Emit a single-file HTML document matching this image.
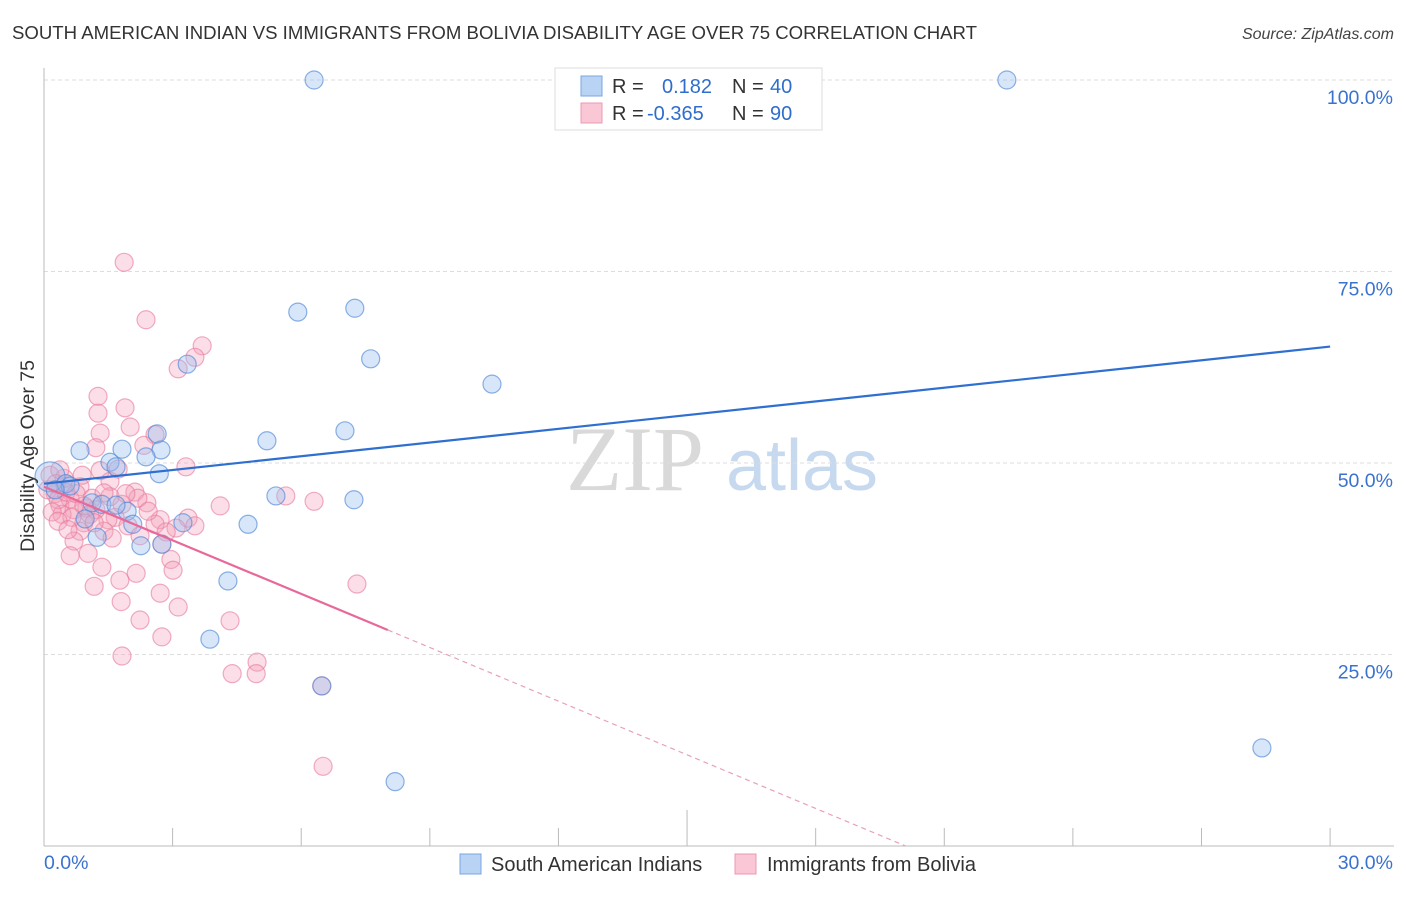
<!DOCTYPE html>
<html><head><meta charset="utf-8">
<style>
html,body{margin:0;padding:0;background:#fff;}
body{width:1406px;height:892px;overflow:hidden;font-family:"Liberation Sans",sans-serif;}
</style></head>
<body>
<svg id="chart" width="1406" height="892" xmlns="http://www.w3.org/2000/svg" font-family="Liberation Sans, sans-serif">
<text x="12" y="39" font-size="18.6" fill="#333">SOUTH AMERICAN INDIAN VS IMMIGRANTS FROM BOLIVIA DISABILITY AGE OVER 75 CORRELATION CHART</text>
<text x="1394" y="39" font-size="16" fill="#444" text-anchor="end" font-style="italic">Source: ZipAtlas.com</text>
<g>
<text x="635" y="490" font-size="92" fill="#d9d9d9" font-family="Liberation Serif, serif" text-anchor="middle">ZIP</text>
<text x="802" y="490" font-size="72" fill="#c6d9ef" text-anchor="middle">atlas</text>
</g>
<g id="grid"></g>
<g id="axes"></g>
<g id="pts"></g>
<g id="trend"></g>
<text transform="translate(34,456) rotate(-90)" font-size="19.5" fill="#333" text-anchor="middle">Disability Age Over 75</text>
<g>
<rect x="555" y="68" width="267" height="62" fill="#fff" stroke="#ddd"/>
<rect x="581" y="76" width="21" height="20" fill="#b8d3f3" stroke="#7aa6e0"/>
<rect x="581" y="103" width="21" height="20" fill="#f9c7d5" stroke="#ec9ab3"/>
<text x="612" y="93" font-size="20" fill="#333">R =</text>
<text x="662" y="93" font-size="20" fill="#2f6dcc">0.182</text>
<text x="732" y="93" font-size="20" fill="#333">N =</text>
<text x="770" y="93" font-size="20" fill="#2f6dcc">40</text>
<text x="612" y="120" font-size="20" fill="#333">R =</text>
<text x="647" y="120" font-size="20" fill="#2f6dcc">-0.365</text>
<text x="732" y="120" font-size="20" fill="#333">N =</text>
<text x="770" y="120" font-size="20" fill="#2f6dcc">90</text>
</g>
<g>
<rect x="460" y="854" width="21" height="20" fill="#b8d3f3" stroke="#7aa6e0"/>
<text x="491" y="871" font-size="20" fill="#333">South American Indians</text>
<rect x="735" y="854" width="21" height="20" fill="#f9c7d5" stroke="#ec9ab3"/>
<text x="767" y="871" font-size="20" fill="#333">Immigrants from Bolivia</text>
</g>
</svg>
<script>
const blueX=[6.30,13.76,22.46,5.92,7.25,7.62,3.34,10.45,7.02,5.20,2.64,1.82,2.73,0.84,2.38,1.54,1.68,2.69,0.14,0.51,5.41,7.23,1.12,1.35,1.94,0.96,2.07,3.24,4.76,1.24,2.26,2.75,4.29,3.87,6.48,8.19,28.41,0.61,0.26,1.68];
const blueY=[100,100,100,69.7,70.2,63.6,62.9,60.3,54.2,52.9,53.8,51.8,51.7,51.6,50.8,50.1,49.5,48.6,48.2,47.3,45.7,45.2,44.8,44.6,43.7,42.7,42.0,42.2,42.0,40.3,39.2,39.4,34.6,27.0,20.9,8.4,12.8,47.0,46.5,44.5];
const pinkX=[1.87,2.38,3.69,3.52,3.13,1.26,1.89,1.26,2.01,1.31,2.59,1.21,2.33,3.31,1.73,1.31,1.54,0.51,0.84,2.12,0.26,1.54,0.61,5.64,6.30,2.40,4.11,0.37,1.00,0.70,0.42,1.66,2.71,3.36,1.49,0.93,2.59,1.96,3.08,1.40,0.84,2.85,2.24,0.70,2.75,1.03,0.61,2.96,1.35,3.01,2.15,1.77,7.30,1.17,2.71,1.80,3.13,2.24,4.34,2.75,1.82,4.97,4.39,4.95,6.51,6.48,0.14,0.09,0.33,0.51,0.75,1.12,1.21,0.93,0.47,0.19,1.40,1.07,0.65,0.33,1.82,2.19,0.56,1.59,2.43,3.52,0.37,0.89,1.91,0.28,1.17];
const pinkY=[76.2,68.7,65.3,63.8,62.3,58.7,57.2,56.5,54.7,53.9,53.7,52.0,52.3,49.5,49.2,49.0,47.6,47.3,46.9,46.2,46.0,45.6,45.3,45.7,45.0,44.8,44.4,44.5,44.1,43.9,43.3,42.9,42.6,42.8,42.6,42.2,42.0,41.8,41.5,41.1,41.1,41.0,40.5,39.8,39.4,38.2,37.9,37.4,36.4,36.0,35.6,34.7,34.2,33.9,33.0,31.9,31.2,29.5,29.4,27.3,24.8,24.0,22.5,22.5,10.4,20.9,48.4,46.5,45.2,46.2,46.0,45.4,43.9,44.4,48.0,43.6,46.1,43.3,42.9,42.4,44.6,45.4,41.3,40.2,43.7,41.8,49.1,48.4,46.0,47.3,42.2];
const yTicks=[25,50,75,100];
const yTickLabels=["25.0%","50.0%","75.0%","100.0%"];
const xTicks=[0,3,6,9,12,15,18,21,24,27,30];
const blueTrend=[[0,47.3],[30,65.2]];
const pinkTrend=[[0,46.9],[8.02,28.2],[20.1,0]];

const NS="http://www.w3.org/2000/svg";
const X=v=>44+v*42.87;
const Y=v=>846-v*7.66;
function mk(parent,tag,attrs){const e=document.createElementNS(NS,tag);for(const k in attrs)e.setAttribute(k,attrs[k]);document.getElementById(parent).appendChild(e);return e;}

yTicks.forEach((t,i)=>{
  const l=mk('grid','line',{x1:44,x2:1394,y1:Y(t),y2:Y(t),stroke:'#ddd','stroke-dasharray':'4,3'});
  
  
  const tx=mk('grid','text',{x:1393,y:Y(t)+24,'font-size':19.5,fill:'#3a72cf','text-anchor':'end'});
  tx.textContent=yTickLabels[i];
  
  
});
let ax=mk('axes','line',{x1:44,x2:44,y1:68,y2:846,stroke:'#bbb'});


ax=mk('axes','line',{x1:44,x2:1394,y1:846,y2:846,stroke:'#bbb'});


xTicks.forEach(t=>{
  const l=mk('axes','line',{x1:X(t),x2:X(t),y1:(t===15?810:828),y2:846,stroke:'#bbb'});
  
  
});
let xl=mk('axes','text',{x:44,y:869,'font-size':19.5,fill:'#3a72cf'});xl.textContent='0.0%';


xl=mk('axes','text',{x:1393,y:869,'font-size':19.5,fill:'#3a72cf','text-anchor':'end'});xl.textContent='30.0%';



pinkX.forEach((v,i)=>{
  const c=mk('pts','circle',{cx:X(v),cy:Y(pinkY[i]),r:9,fill:'rgba(244,160,185,0.35)',stroke:'rgba(232,120,155,0.6)','stroke-width':1.2});
  
  
});
blueX.forEach((v,i)=>{
  const c=mk('pts','circle',{cx:X(v),cy:Y(blueY[i]),r:(i===18?15:9),fill:'rgba(150,190,240,0.38)',stroke:'rgba(80,135,215,0.65)','stroke-width':1.2});
  
  
});
let t=mk('trend','line',{x1:X(blueTrend[0][0]),y1:Y(blueTrend[0][1]),x2:X(blueTrend[1][0]),y2:Y(blueTrend[1][1]),stroke:'#2f6fd0','stroke-width':2.2});


t=mk('trend','line',{x1:X(pinkTrend[0][0]),y1:Y(pinkTrend[0][1]),x2:X(pinkTrend[1][0]),y2:Y(pinkTrend[1][1]),stroke:'#e8689a','stroke-width':2.2});


t=mk('trend','line',{x1:X(pinkTrend[1][0]),y1:Y(pinkTrend[1][1]),x2:X(pinkTrend[2][0]),y2:Y(pinkTrend[2][1]),stroke:'#e8a0b8','stroke-width':1.2,'stroke-dasharray':'5,4'});


</script>
</body></html>
